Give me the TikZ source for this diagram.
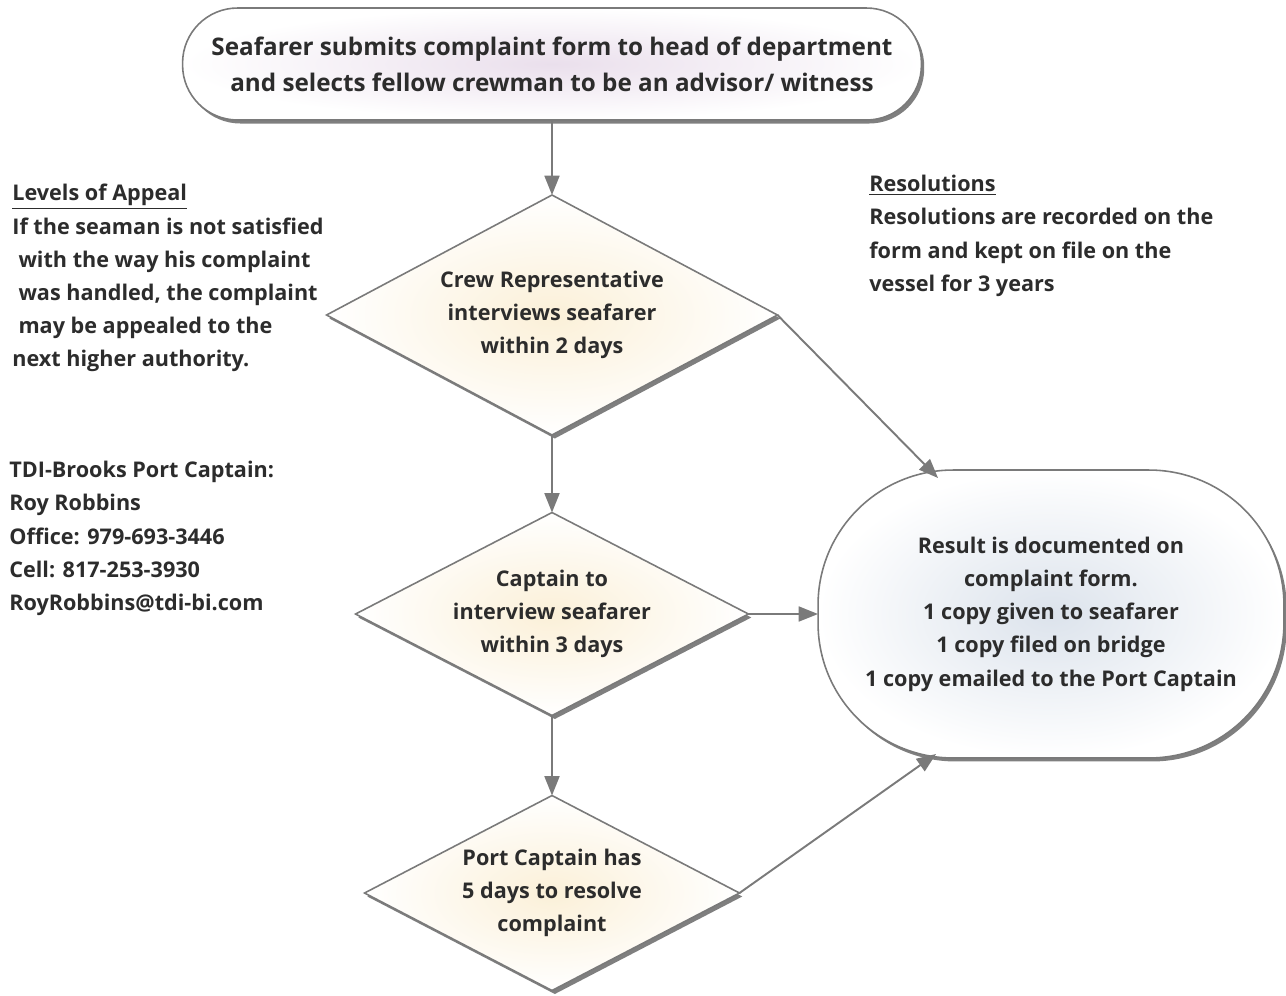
\documentclass[tikz,border=0pt]{standalone}
\usepackage{fontspec}
\setmainfont{Open Sans}
\usetikzlibrary{shapes.geometric,shadows,arrows.meta,calc}
\definecolor{linegray}{HTML}{7A7A7A}
\definecolor{txtgray}{HTML}{2C2C2C}
\definecolor{cream}{HTML}{FBF0D8}
\definecolor{bluegray}{HTML}{DCE3EC}
\definecolor{lilac}{HTML}{EADFEC}

\begin{document}
\begin{tikzpicture}[x=0.02cm,y=-0.02cm,
  every node/.style={text=txtgray,font=\bfseries\fontsize{12.3}{18.9}\selectfont},
  box/.style={draw=linegray,line width=0.9pt,align=center,inner sep=0pt,outer sep=0pt,
    drop shadow={shadow xshift=1.6pt,shadow yshift=-2pt,fill=black,opacity=0.5}},
  decision/.style={box,diamond,inner color=cream,outer color=white},
  link/.style={draw=linegray,line width=1.1pt,-{Triangle[length=11pt,width=8.5pt]}},
  note/.style={align=left,anchor=north west,inner sep=0pt}]
\useasboundingbox (0,0) rectangle (1286,995);

% flow
\node[box,rounded corners=1.1cm,minimum width=14.78cm,minimum height=2.24cm,
  inner color=lilac,outer color=white,font=\bfseries\fontsize{13.8}{20.4}\selectfont]
  (start) at (552,64) {Seafarer submits complaint form to head of department\\
  and selects fellow crewman to be an advisor/ witness};
\node[decision,aspect=1.88,minimum width=9.02cm,minimum height=4.8cm]
  (crew) at (552,315) {Crew Representative\\interviews seafarer\\within 2 days};
\node[decision,aspect=1.94,minimum width=7.86cm,minimum height=4.06cm]
  (captain) at (552,614) {Captain to\\interview seafarer\\within 3 days};
\node[decision,aspect=1.92,minimum width=7.5cm,minimum height=3.9cm]
  (port) at (552,893) {Port Captain has\\5 days to resolve\\complaint};
\node[box,rounded corners=2.7cm,minimum width=9.32cm,minimum height=5.76cm,
  inner color=bluegray,outer color=white]
  (result) at (1051,614) {Result is documented on\\complaint form.\\1 copy given to seafarer\\
  1 copy filed on bridge\\1 copy emailed to the Port Captain};

\coordinate (resTop) at ($(result.north west)+(120,8)$);
\coordinate (resBot) at ($(result.south west)+(118,-4)$);

\draw[link] (start.south) -- (crew.north);
\draw[link] (crew.south) -- (captain.north);
\draw[link] (captain.south) -- (port.north);
\draw[link] (crew.east) -- (resTop);
\draw[link] (captain.east) -- (result.west);
\draw[link] (port.east) -- (resBot);

% side notes
\node[note] (appeal) at (12,184) {\underline{Levels of Appeal}\\If the seaman is not satisfied\\
  \hspace*{3.5pt}with the way his complaint\\\hspace*{3.5pt}was handled, the complaint\\
  \hspace*{3.5pt}may be appealed to the\\next higher authority.};
\node[note] (contact) at (9,461) {TDI-Brooks Port Captain:\\Roy Robbins\\Office: 979-693-3446\\
  Cell: 817-253-3930\\RoyRobbins@tdi-bi.com};
\node[note] (resol) at (869,175) {\underline{Resolutions}\\Resolutions are recorded on the\\
  form and kept on file on the\\vessel for 3 years};
\end{tikzpicture}
\end{document}
